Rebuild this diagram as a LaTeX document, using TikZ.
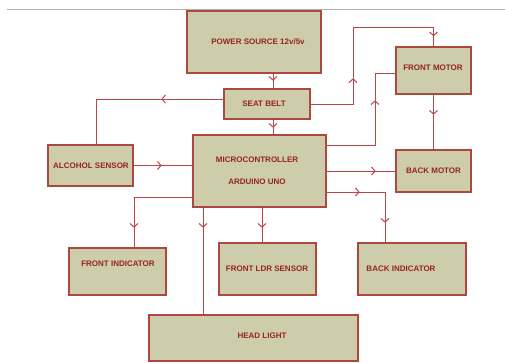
\documentclass[tikz,border=0pt]{standalone}
\usepackage{fontspec}
\setmainfont{Liberation Sans}
\usetikzlibrary{arrows.meta,decorations.markings,calc}
\definecolor{boxfill}{RGB}{205,205,172}
\definecolor{boxline}{RGB}{172,72,64}
\definecolor{wirecol}{RGB}{188,70,70}
\definecolor{txtcol}{RGB}{150,35,35}
\newcommand{\chv}{\arrow{Straight Barb[length=3.5pt,width=8pt]}}
\tikzset{
  blk/.style={draw=boxline, fill=boxfill, line width=1.3pt, inner sep=0pt},
  lbl/.style={text=txtcol, font=\fontsize{8}{9}\selectfont\bfseries, inner sep=0pt},
  wire/.style={draw=wirecol, line width=1pt},
  mk/.style={postaction={decorate}, decoration={markings, mark=at position #1 with {\chv}}},
  mktwo/.style 2 args={postaction={decorate}, decoration={markings, mark=at position #1 with {\chv}, mark=at position #2 with {\chv}}}
}
\begin{document}
\begin{tikzpicture}[x=1pt,y=-1pt]
\useasboundingbox (0,0) rectangle (505,362);
\fill[white] (0,0) rectangle (505,362);
\draw[gray!60, line width=0.8pt] (7,9) -- (505,9);

% boxes
\node[blk, minimum width=134pt, minimum height=62pt] (power) at (254,42) {};
\node[blk, minimum width=86pt, minimum height=30pt] (seat) at (267,104) {};
\node[blk, minimum width=75pt, minimum height=47pt] (fm) at (433.5,70.5) {};
\node[blk, minimum width=133pt, minimum height=72pt] (micro) at (259.5,171) {};
\node[blk, minimum width=85pt, minimum height=41pt] (alc) at (90.5,165.5) {};
\node[blk, minimum width=75pt, minimum height=42pt] (bm) at (433.5,171) {};
\node[blk, minimum width=97pt, minimum height=47pt] (fi) at (117.5,271.5) {};
\node[blk, minimum width=97pt, minimum height=52pt] (ldr) at (267.5,269) {};
\node[blk, minimum width=108pt, minimum height=52pt] (bi) at (412,269) {};
\node[blk, minimum width=209pt, minimum height=46pt] (hl) at (253.5,338) {};

% texts
\node[lbl] (tpower) at (258,42) {POWER SOURCE 12v/5v};
\node[lbl] (tseat) at (264,104) {SEAT BELT};
\node[lbl] (tfm) at (433,68) {FRONT MOTOR};
\node[lbl] (tmc1) at (257,160) {MICROCONTROLLER};
\node[lbl] (tmc2) at (257,182) {ARDUINO UNO};
\node[lbl] (talc) at (91,166) {ALCOHOL SENSOR};
\node[lbl] (tbm) at (433.5,171) {BACK MOTOR};
\node[lbl] (tfi) at (118,264) {FRONT INDICATOR};
\node[lbl] (tldr) at (267,269) {FRONT LDR SENSOR};
\node[lbl] (tbi) at (401,269) {BACK INDICATOR};
\node[lbl] (thl) at (262,336) {HEAD LIGHT};

% helper coordinates
\coordinate (c1) at (353,27);
\coordinate (c2) at (375,73);
\coordinate (m11) at ([xshift=-56.5pt]micro.south);

% connectors
\draw[wire, mk=7pt] ([xshift=19pt]power.south) -- ([xshift=6pt]seat.north);
\draw[wire, mk=8pt] ([xshift=6pt]seat.south) -- ([xshift=13.5pt]micro.north);
\draw[wire, mk=62pt] ([yshift=5pt]seat.west) -| ([xshift=5.5pt]alc.north);
\draw[wire, mktwo={68pt}{209pt}] (seat.east) -| (c1) -| (fm.north);
\draw[wire, mk=93pt] ([yshift=26pt]micro.east) -| (c2) -- (c2 -| fm.west);
\draw[wire, mk=20pt] (fm.south) -- (bm.north);
\draw[wire, mk=28pt] (alc.east) -- (alc.east -| micro.west);
\draw[wire, mk=49pt] (micro.east) -- (bm.west);
\draw[wire, mktwo={33pt}{89pt}] ([yshift=-21pt]micro.east) -| ([xshift=-27pt]bi.north);
\draw[wire, mk=89pt] ([yshift=-26pt]micro.west) -| ([xshift=16.5pt]fi.north);
\draw[wire, mk=20pt] (m11) -- (m11 |- hl.north);
\draw[wire, mk=20pt] ([xshift=2.5pt]micro.south) -- ([xshift=-5.5pt]ldr.north);
\end{tikzpicture}
\end{document}
